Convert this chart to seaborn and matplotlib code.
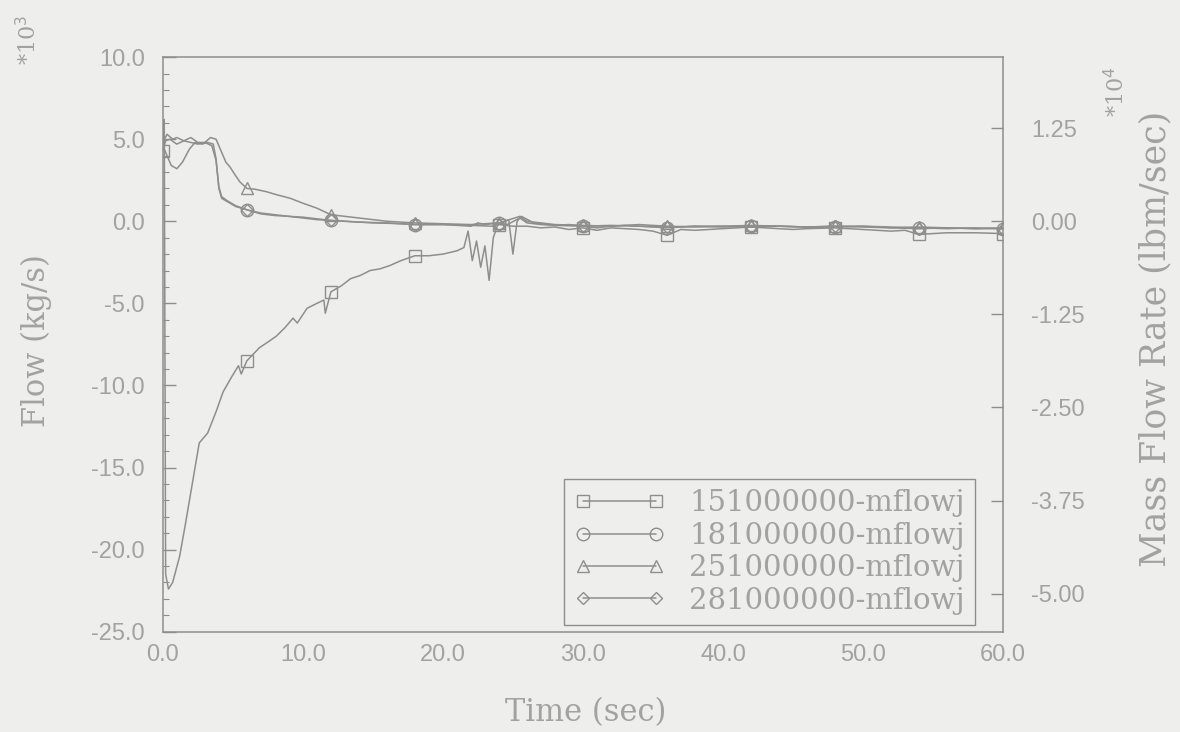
import numpy as np
import pandas as pd
import matplotlib
matplotlib.use("Agg")
import matplotlib.pyplot as plt
from matplotlib.lines import Line2D
from matplotlib.ticker import MultipleLocator, FormatStrFormatter
import seaborn as sns

# ---- data (flow, 10^3 kg/s, versus time in seconds) ----
t_151 = [0.0, 0.1, 0.2, 0.4, 0.7, 1.2, 1.6, 2.0, 2.6, 3.2, 3.8, 4.3, 4.9, 5.4, 5.6,
         6.0, 6.9, 7.6, 8.1, 8.7, 9.3, 9.6, 10.3, 11.0, 11.5, 11.6, 12.0, 12.8, 13.4,
         14.1, 14.8, 15.5, 16.2, 17.0, 18.0, 19.0, 20.0, 21.0, 21.5, 21.8, 22.1, 22.4,
         22.7, 23.0, 23.3, 23.6, 23.9, 24.0, 25.0, 26.0, 27.0, 28.0, 29.0, 30.0, 31.0,
         32.0, 33.0, 34.0, 35.0, 36.0, 37.0, 38.0, 40.0, 42.0, 44.0, 45.0, 46.0, 48.0,
         50.0, 52.0, 53.0, 54.0, 56.0, 58.0, 60.0]
v_151 = [4.3, 6.2, -21.5, -22.4, -22.0, -20.4, -18.5, -16.5, -13.5, -12.9, -11.6, -10.4,
         -9.5, -8.8, -9.3, -8.5, -7.7, -7.3, -7.0, -6.5, -5.9, -6.2, -5.3, -5.0, -4.8,
         -5.6, -4.3, -3.9, -3.5, -3.3, -3.0, -2.9, -2.7, -2.4, -2.1, -2.1, -2.0, -1.8,
         -1.6, -0.6, -2.4, -1.2, -2.8, -1.5, -3.6, -1.0, -0.25, -0.2, -0.3, -0.3, -0.4,
         -0.35, -0.5, -0.4, -0.55, -0.4, -0.45, -0.5, -0.6, -0.85, -0.5, -0.55, -0.45,
         -0.35, -0.45, -0.5, -0.45, -0.4, -0.5, -0.6, -0.55, -0.8, -0.7, -0.7, -0.75]

t_181 = [0.0, 0.3, 0.6, 1.0, 1.4, 1.9, 2.3, 2.8, 3.2, 3.6, 3.8, 4.0, 4.2, 4.6, 5.2, 6.0,
         7.0, 8.0, 9.0, 10.0, 11.0, 12.0, 13.0, 14.0, 15.0, 16.0, 17.0, 18.0, 19.0, 20.0,
         21.0, 22.0, 22.5, 23.0, 24.0, 24.6, 25.5, 26.0, 27.0, 28.0, 29.0, 30.0, 31.0,
         32.0, 33.0, 34.0, 35.0, 36.0, 38.0, 40.0, 42.0, 44.0, 46.0, 48.0, 50.0, 52.0,
         54.0, 56.0, 58.0, 60.0]
v_181 = [4.6, 4.0, 3.4, 3.2, 3.6, 4.4, 4.8, 4.7, 4.8, 4.7, 3.8, 2.0, 1.4, 1.2, 0.9, 0.7,
         0.45, 0.35, 0.3, 0.2, 0.1, 0.05, 0.0, -0.05, -0.1, -0.12, -0.15, -0.2, -0.2,
         -0.2, -0.25, -0.3, -0.1, -0.2, -0.1, -0.2, 0.2, -0.1, -0.2, -0.25, -0.2, -0.3,
         -0.4, -0.3, -0.25, -0.3, -0.35, -0.4, -0.3, -0.35, -0.3, -0.3, -0.35, -0.35,
         -0.3, -0.35, -0.4, -0.45, -0.4, -0.45]

t_251 = [0.0, 0.3, 0.7, 1.0, 1.5, 2.0, 2.5, 3.0, 3.4, 3.8, 4.2, 4.5, 4.8, 5.1, 5.5, 6.0,
         6.6, 7.4, 8.2, 9.1, 10.0, 11.0, 12.0, 13.0, 14.0, 15.0, 16.0, 18.0, 20.0, 22.0,
         24.0, 25.5, 26.0, 28.0, 30.0, 32.0, 34.0, 36.0, 38.0, 40.0, 42.0, 44.0, 46.0,
         48.0, 50.0, 52.0, 54.0, 56.0, 58.0, 60.0]
v_251 = [4.8, 5.3, 5.0, 5.1, 4.9, 5.1, 4.8, 4.8, 5.1, 5.0, 4.2, 3.6, 3.3, 2.9, 2.4, 2.0,
         1.95, 1.8, 1.6, 1.4, 1.1, 0.8, 0.4, 0.3, 0.2, 0.1, 0.0, -0.1, -0.15, -0.2,
         -0.1, 0.3, 0.0, -0.2, -0.25, -0.3, -0.2, -0.3, -0.35, -0.3, -0.25, -0.3, -0.35,
         -0.3, -0.3, -0.4, -0.35, -0.4, -0.45, -0.4]

t_281 = [0.0, 0.2, 0.5, 1.0, 1.5, 2.0, 2.5, 3.0, 3.5, 3.8, 4.0, 4.2, 4.6, 5.2, 6.0, 7.0,
         8.0, 9.0, 10.0, 11.0, 12.0, 14.0, 16.0, 18.0, 20.0, 22.0, 23.5, 24.0, 24.7,
         25.0, 25.3, 25.6, 26.5, 28.0, 30.0, 32.0, 34.0, 36.0, 38.0, 40.0, 42.0, 44.0,
         46.0, 48.0, 50.0, 52.0, 54.0, 56.0, 58.0, 60.0]
v_281 = [4.3, 4.9, 5.0, 4.7, 4.9, 4.8, 4.7, 4.8, 4.6, 3.7, 2.1, 1.5, 1.25, 0.95, 0.7,
         0.5, 0.4, 0.3, 0.25, 0.15, 0.05, -0.05, -0.1, -0.2, -0.2, -0.25, -0.3, -0.2,
         0.1, -2.0, 0.0, 0.3, -0.1, -0.25, -0.3, -0.25, -0.3, -0.35, -0.3, -0.3, -0.35,
         -0.3, -0.35, -0.3, -0.35, -0.4, -0.45, -0.4, -0.45, -0.45]

series_names = ["151000000-mflowj", "181000000-mflowj",
                "251000000-mflowj", "281000000-mflowj"]
series_markers = ["s", "o", "^", "D"]
# times at which each curve carries its symbol
marker_times_151 = [0.0, 6.0, 12.0, 18.0, 24.0, 30.0, 36.0, 42.0, 48.0, 54.0, 60.0]
marker_times_other = [6.0, 12.0, 18.0, 24.0, 30.0, 36.0, 42.0, 48.0, 54.0, 60.0]

y2_ticks = [1.25, 0.0, -1.25, -2.50, -3.75, -5.00]
KG_TO_LBM_E4 = 1000.0 / 0.45359237 / 1.0e4   # 10^3 kg/s -> 10^4 lbm/s

# ---- style ----
bg = "#eeeeec"
ink = "#8e8e8e"
txt = "#a2a2a2"
sns.set_theme(style="white")
plt.rcParams["axes.unicode_minus"] = False
plt.rcParams["font.family"] = ["Liberation Sans", "DejaVu Sans"]
serif = "DejaVu Serif"

fig = plt.figure(figsize=(11.8, 7.32), dpi=100, facecolor=bg)
ax = fig.add_axes([0.138, 0.137, 0.712, 0.785], facecolor=bg)

frames = []
for name, t, v in zip(series_names, [t_151, t_181, t_251, t_281],
                      [v_151, v_181, v_251, v_281]):
    frames.append(pd.DataFrame({"time": t, "flow": v, "series": name}))
df = pd.concat(frames, ignore_index=True)

for k, (name, mk) in enumerate(zip(series_names, series_markers)):
    sub = df[df["series"] == name].reset_index(drop=True)
    mt = marker_times_151 if k == 0 else marker_times_other
    idx = [int(i) for i in sub.index[sub["time"].isin(mt)]]
    msize = 9 if mk != "D" else 6.5
    sns.lineplot(data=sub, x="time", y="flow", ax=ax, color=ink, linewidth=1.1,
                 estimator=None, sort=False, marker=mk, markevery=idx,
                 markersize=msize, markerfacecolor="none", markeredgecolor=ink,
                 markeredgewidth=1.0)

ax.set_xlim(0, 60)
ax.set_ylim(-25, 10)
ax.xaxis.set_major_locator(MultipleLocator(10))
ax.xaxis.set_minor_locator(MultipleLocator(2))
ax.yaxis.set_major_locator(MultipleLocator(5))
ax.yaxis.set_minor_locator(MultipleLocator(1))
ax.xaxis.set_major_formatter(FormatStrFormatter("%.1f"))
ax.yaxis.set_major_formatter(FormatStrFormatter("%.1f"))
ax.tick_params(axis="both", which="both", direction="in", color=ink,
               labelcolor=txt, labelsize=17, top=False, right=False)
ax.tick_params(axis="both", which="major", length=9, width=1.0, pad=13)
ax.tick_params(axis="both", which="minor", length=4, width=0.8)
ax.tick_params(axis="x", which="major", pad=9)
for s in ax.spines.values():
    s.set_color(ink)
    s.set_linewidth(1.1)
ax.set_xlabel("")
ax.set_ylabel("")

# right-hand axis in lbm/sec
ax2 = ax.twinx()
ax2.set_ylim(-25 * KG_TO_LBM_E4, 10 * KG_TO_LBM_E4)
ax2.set_yticks(y2_ticks)
ax2.yaxis.set_major_formatter(FormatStrFormatter("%.2f"))
ax2.tick_params(axis="y", direction="in", length=9, width=1.0, color=ink,
                labelcolor=txt, labelsize=17, pad=20)
for s in ax2.spines.values():
    s.set_visible(False)
ax2.set_ylabel("")
ax2.grid(False)

# axis titles
fig.text(0.496, 0.027, "Time (sec)", fontsize=22, color=txt, family=serif,
         ha="center", va="center")
fig.text(0.031, 0.535, "Flow (kg/s)", fontsize=22, color=txt, family=serif,
         rotation=90, ha="center", va="center")
fig.text(0.979, 0.537, "Mass Flow Rate (lbm/sec)", fontsize=25, color=txt,
         family=serif, rotation=90, ha="center", va="center")

# exponent notes
fig.text(0.024, 0.945, r"*10$^3$", rotation=90, fontsize=16, color=txt,
         family=serif, ha="center", va="center")
fig.text(0.946, 0.875, r"*10$^4$", rotation=90, fontsize=16, color=txt,
         family=serif, ha="center", va="center")

# legend
handles = [Line2D([0], [0], color=ink, linewidth=1.1, marker=mk,
                  markersize=(9 if mk != "D" else 6.5), markerfacecolor="none",
                  markeredgecolor=ink, markeredgewidth=1.0)
           for mk in series_markers]
leg = ax.legend(handles, series_names, loc="lower right",
                bbox_to_anchor=(0.967, 0.012), numpoints=2, handlelength=3.1,
                frameon=True, fancybox=False, framealpha=1.0,
                borderpad=0.35, labelspacing=0.15, handletextpad=0.85,
                borderaxespad=0.0,
                prop={"family": serif, "size": 21})
leg.get_frame().set_facecolor(bg)
leg.get_frame().set_edgecolor(ink)
leg.get_frame().set_linewidth(1.0)
for tx in leg.get_texts():
    tx.set_color(txt)

fig.savefig("out.png", dpi=100, facecolor=bg)
